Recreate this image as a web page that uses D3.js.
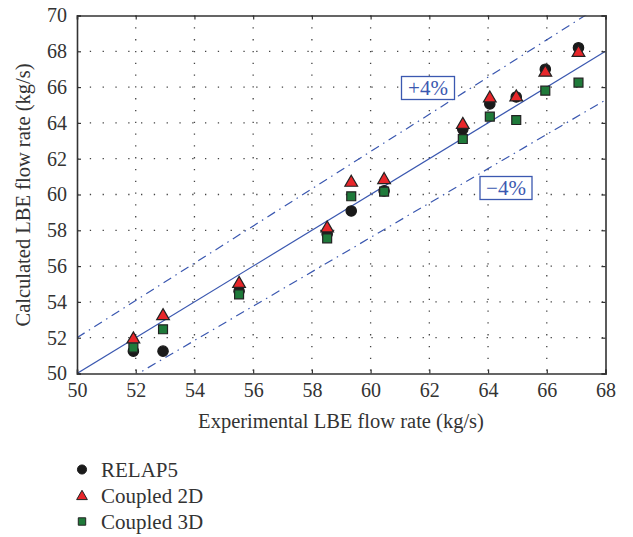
<!DOCTYPE html>
<html>
<head>
<meta charset="utf-8">
<script src="https://cdn.jsdelivr.net/npm/d3@7"></script>
<style>
  body { margin: 0; background: #fff; }
  text { font-family: "Liberation Serif", "DejaVu Serif", serif; fill: #333; }
</style>
</head>
<body>
<div id="chart"></div>
<script>
// experimental flow rate (x) and the three calculated series (y)
var experimental = [51.92, 52.93, 55.52, 58.52, 59.34, 60.46, 63.14, 64.06, 64.96, 65.95, 67.08];
var relap5     = [51.25, 51.25, 54.6, 57.8, 59.08, 60.2, 63.64, 65.06, 65.45, 67.0, 68.2];
var coupled2D  = [52.0, 53.3, 55.1, 58.2, 60.75, 60.9, 63.98, 65.46, 65.52, 66.9, 68.0];
var coupled3D  = [51.44, 52.47, 54.42, 57.55, 59.9, 60.16, 63.1, 64.35, 64.16, 65.8, 66.25];
var tickValues = [50, 52, 54, 56, 58, 60, 62, 64, 66, 68, 70];
var seriesNames = ["RELAP5", "Coupled 2D", "Coupled 3D"];

var width = 633, height = 537;
var margin = {left: 77, top: 15.5, right: 633 - 605.5, bottom: 537 - 373.5};
var lineBlue = "#3b58b0";

var svg = d3.select("#chart").append("svg")
    .attr("width", width)
    .attr("height", height);

var x = d3.scaleLinear().domain([50, 68]).range([margin.left, width - margin.right]);
var y = d3.scaleLinear().domain([50, 70]).range([height - margin.bottom, margin.top]);

var xTicks = tickValues.filter(function(d) { return d <= 68; });

// dotted grid
var grid = svg.append("g");
grid.selectAll(".gx").data(xTicks.slice(1, -1)).enter().append("line")
    .attr("x1", function(d) { return x(d); }).attr("x2", function(d) { return x(d); })
    .attr("y1", y(70)).attr("y2", y(50))
    .attr("stroke", "#444").attr("stroke-width", 1.3).attr("stroke-dasharray", "1.3,10.5");
grid.selectAll(".gy").data(tickValues.slice(1, -1)).enter().append("line")
    .attr("y1", function(d) { return y(d); }).attr("y2", function(d) { return y(d); })
    .attr("x1", x(50)).attr("x2", x(68))
    .attr("stroke", "#444").attr("stroke-width", 1.3).attr("stroke-dasharray", "1.3,11.5");

svg.append("clipPath").attr("id", "clip").append("rect")
    .attr("x", x(50)).attr("y", y(70)).attr("width", x(68) - x(50)).attr("height", y(50) - y(70));

// reference lines: 1:1 and +/-4%
var refs = svg.append("g").attr("clip-path", "url(#clip)");
var factors = [1, 1.04, 0.96];
refs.selectAll("line").data(factors).enter().append("line")
    .attr("x1", x(50)).attr("y1", function(f) { return y(50 * f); })
    .attr("x2", x(68)).attr("y2", function(f) { return y(68 * f); })
    .attr("stroke", lineBlue).attr("stroke-width", 1.2)
    .attr("stroke-dasharray", function(f) { return f === 1 ? null : "9,5,1.5,5"; });

// labels for the bands
function bandLabel(cx, cy, w, txt) {
    var g = svg.append("g");
    g.append("rect").attr("x", cx - w / 2).attr("y", cy - 11.5).attr("width", w).attr("height", 23)
        .attr("fill", "#fff").attr("stroke", lineBlue).attr("stroke-width", 1.3);
    g.append("text").attr("x", cx).attr("y", cy + 7).attr("text-anchor", "middle")
        .style("font-size", "21px").style("fill", lineBlue).text(txt);
}
bandLabel(428, 88, 53, "+4%");
bandLabel(506, 188, 52, "\u22124%");

// axes frame with inward ticks
var axB = d3.axisBottom(x).tickValues(xTicks).tickSize(-4).tickPadding(9).tickFormat(d3.format("d"));
var axT = d3.axisTop(x).tickValues(xTicks).tickSize(-4).tickFormat("");
var axL = d3.axisLeft(y).tickValues(tickValues).tickSize(-4).tickPadding(10).tickFormat(d3.format("d"));
var axR = d3.axisRight(y).tickValues(tickValues).tickSize(-4).tickFormat("");

function styleAxis(g) {
    g.select(".domain").attr("stroke", "#333").attr("stroke-width", 1.6);
    g.selectAll(".tick line").attr("stroke", "#333").attr("stroke-width", 1.2);
    g.selectAll("text").style("font-size", "20px").style("font-family", "'Liberation Serif', serif").attr("fill", "#333");
}
svg.append("g").attr("transform", "translate(0," + y(50) + ")").call(axB).call(styleAxis);
svg.append("g").attr("transform", "translate(0," + y(70) + ")").call(axT).call(styleAxis);
svg.append("g").attr("transform", "translate(" + x(50) + ",0)").call(axL).call(styleAxis);
svg.append("g").attr("transform", "translate(" + x(68) + ",0)").call(axR).call(styleAxis);

// data points
var sym = {
    circle: d3.symbol().type(d3.symbolCircle).size(85),
    triangle: d3.symbol().type(d3.symbolTriangle).size(70),
    square: d3.symbol().type(d3.symbolSquare).size(80)
};
var series = [
    {name: seriesNames[0], vals: relap5, shape: "circle", fill: "#1a1a1a", stroke: "#1a1a1a"},
    {name: seriesNames[1], vals: coupled2D, shape: "triangle", fill: "#e8262a", stroke: "#222"},
    {name: seriesNames[2], vals: coupled3D, shape: "square", fill: "#1f7a3a", stroke: "#222"}
];
series.forEach(function(s) {
    svg.append("g").selectAll("path").data(s.vals).enter().append("path")
        .attr("d", sym[s.shape])
        .attr("transform", function(d, i) {
            var dy = s.shape === "triangle" ? 1.5 : 0;
            return "translate(" + x(experimental[i]) + "," + (y(d) + dy) + ")";
        })
        .attr("fill", s.fill).attr("stroke", s.stroke).attr("stroke-width", 1.2);
});

// axis titles
svg.append("text").attr("x", 341).attr("y", 428).attr("text-anchor", "middle")
    .style("font-size", "20.5px").text("Experimental LBE flow rate (kg/s)");
svg.append("text").attr("transform", "translate(30,195) rotate(-90)").attr("text-anchor", "middle")
    .style("font-size", "20.5px").text("Calculated LBE flow rate (kg/s)");

// legend
var legend = svg.append("g");
series.forEach(function(s, i) {
    var ly = 469.5 + i * 26;
    var small = {circle: 65, triangle: 50, square: 55}[s.shape];
    legend.append("path")
        .attr("d", d3.symbol().type(s.shape === "circle" ? d3.symbolCircle : s.shape === "triangle" ? d3.symbolTriangle : d3.symbolSquare).size(small))
        .attr("transform", "translate(82," + (ly + (s.shape === "triangle" ? 1 : 0)) + ")")
        .attr("fill", s.fill).attr("stroke", s.stroke).attr("stroke-width", 1);
    legend.append("text").attr("x", 101).attr("y", ly + 7)
        .style("font-size", "21px").text(s.name);
});
</script>
</body>
</html>
